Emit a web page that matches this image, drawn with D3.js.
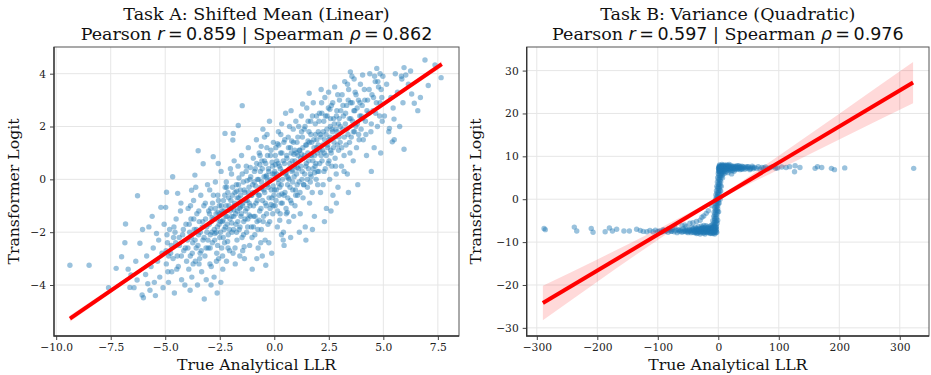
<!DOCTYPE html>
<html>
<head>
<meta charset="utf-8">
<script src="https://cdn.jsdelivr.net/npm/d3@7"></script>
<style>
  body { margin: 0; background: #fff; }
  text { font-family: "DejaVu Serif", serif; }
</style>
</head>
<body>
<svg id="chart" width="931" height="375"></svg>
<script>
// ---- data ----
const titlesA = ['Task A: Shifted Mean (Linear)', 0.859, 0.862];
const titlesB = ['Task B: Variance (Quadratic)', 0.597, 0.976];

const ticksAx = [-10, -7.5, -5, -2.5, 0, 2.5, 5, 7.5];
const ticksAy = [-4, -2, 0, 2, 4];
const ticksBx = [-300, -200, -100, 0, 100, 200, 300];
const ticksBy = [-30, -20, -10, 0, 10, 20, 30];

// fitted line end points and CI band
const fitAx = [-9.37, 7.68];
const fitAy = [-5.27, 4.36];
const bandAx = [-9.37, 0, 7.68];
const bandAhalf = [0.12, 0.03, 0.11];

const fitBx = [-290, 322];
const fitBy = [-24.2, 27.2];
const bandBx = [-290, -200, -100, 0, 100, 200, 322];
const bandBhalf = [4.0, 2.6, 1.25, 0.45, 1.6, 3.0, 4.8];

const taskA = [
  [-9.37,-3.25],[-8.49,-3.25],[-7.25,-3.37],[-7.6,-4.1],
  [-7.0,-2.93],[-6.85,-2.4],[-6.82,-1.69],[-6.57,-3.62],[-6.62,-4.09],[-6.43,-4.1],[-6.29,-3.81],[-6.27,-0.62],[-6.16,-2.42],[-6.06,-4.38],[-6.04,-1.9],[-6.0,-4.48],[-6.35,-3.1],[-6.7,-3.4],
  [-5.75,-1.8],[-5.4,-2.05],[-5.2,-1.06],[-5.9,-3.6],[-5.85,-2.9],[-5.7,-4.2],[-5.65,-3.3],[-5.55,-2.6],[-5.5,-3.9],[-5.45,-4.4],[-5.35,-3.1],[-5.3,-2.3],[-5.25,-3.7],[-5.15,-2.8],[-5.1,-4.1],[-5.05,-1.7],[-5.6,-1.4],[-5.8,-3.95],
  [-4.98,-1.06],[-4.94,-0.49],[-4.66,0.1],[-4.43,-0.53],[-4.95,-3.2],[-4.9,-2.4],[-4.85,-3.9],[-4.8,-1.9],[-4.75,-2.8],[-4.7,-3.5],[-4.62,-2.2],[-4.58,-4.3],[-4.5,-1.5],[-4.45,-2.9],[-4.4,-3.3],[-4.35,-2.5],[-4.3,-1.2],[-4.25,-3.8],[-4.2,-2.1],[-4.15,-2.7],[-4.1,-4.0],[-4.05,-1.7],[-4.02,-3.1],[-4.55,-2.0],[-4.88,-3.5],[-4.28,-0.9],
  [-3.79,-0.41],[-3.64,0.16],[-3.49,1.08],[-3.26,0.59],[-3.21,-4.53],[-3.98,-2.3],[-3.95,-1.1],[-3.92,-3.4],[-3.88,-2.0],[-3.85,-2.9],[-3.82,-1.5],[-3.78,-3.7],[-3.74,-2.4],[-3.7,-0.8],[-3.67,-1.9],[-3.62,-3.1],[-3.58,-2.6],[-3.55,-1.3],[-3.52,-4.0],[-3.47,-2.1],[-3.44,-1.6],[-3.4,-2.8],[-3.37,-0.6],[-3.33,-3.5],[-3.3,-1.8],[-3.27,-2.3],[-3.23,-1.0],[-3.18,-2.9],[-3.15,-1.5],[-3.12,-3.8],[-3.09,-2.0],[-3.06,-0.2],[-3.03,-2.6],[-3.01,-1.2],[-3.86,-4.2],[-3.45,-3.2],[-3.6,-0.3],
  [-2.8,0.86],[-2.57,0.6],[-2.26,1.74],[-2.98,-1.7],[-2.96,-0.4],[-2.94,-2.6],[-2.91,-1.1],[-2.89,-3.3],[-2.86,-2.0],[-2.83,-0.9],[-2.78,-1.5],[-2.76,-3.7],[-2.73,-2.3],[-2.7,-0.1],[-2.67,-1.3],[-2.64,-2.8],[-2.61,-1.8],[-2.59,-0.6],[-2.55,-3.0],[-2.52,-1.0],[-2.5,-2.2],[-2.47,-1.6],[-2.44,0.3],[-2.41,-2.6],[-2.39,-1.2],[-2.36,-3.4],[-2.33,-0.8],[-2.3,-1.9],[-2.28,-2.4],[-2.25,-0.3],[-2.22,-1.4],[-2.19,-3.1],[-2.16,-1.7],[-2.13,-0.5],[-2.11,-2.1],[-2.08,-1.0],[-2.05,-2.7],[-2.03,-1.5],[-2.01,0.4],[-2.9,-4.0],[-2.62,-4.3],[-2.45,-3.9],[-2.2,-0.1],[-2.72,-2.05],[-2.35,-1.55],[-2.58,-1.25],[-2.14,-2.35],[-2.85,-1.45],
  [-1.88,1.74],[-1.9,1.49],[-1.65,2.04],[-1.47,2.79],[-1.98,-1.1],[-1.96,0.2],[-1.94,-2.0],[-1.92,-0.6],[-1.89,-2.8],[-1.86,-1.4],[-1.84,0.7],[-1.81,-0.9],[-1.79,-3.2],[-1.76,-1.7],[-1.74,-0.2],[-1.71,-2.3],[-1.69,-1.2],[-1.66,0.5],[-1.63,-0.7],[-1.61,-1.9],[-1.58,-2.9],[-1.56,-0.4],[-1.53,-1.4],[-1.5,0.9],[-1.48,-2.2],[-1.45,-1.0],[-1.42,-0.1],[-1.4,-1.6],[-1.37,-3.0],[-1.35,-0.5],[-1.32,-1.2],[-1.29,0.3],[-1.27,-2.0],[-1.24,-0.8],[-1.21,-1.5],[-1.19,1.2],[-1.16,-0.3],[-1.13,-2.5],[-1.11,-1.0],[-1.08,0.1],[-1.05,-1.8],[-1.03,-0.6],[-1.01,-3.4],[-1.55,-1.05],[-1.25,-0.05],[-1.85,-1.15],[-1.15,-1.35],[-1.72,-0.45],[-1.38,-2.55],[-1.62,0.05],[-1.1,0.45],[-1.95,-1.65],
  [-0.39,-3.25],[-0.98,-0.5],[-0.96,0.8],[-0.94,-1.4],[-0.92,-0.1],[-0.89,-2.1],[-0.87,0.4],[-0.84,-0.9],[-0.82,1.5],[-0.79,-1.6],[-0.77,0.0],[-0.74,-2.6],[-0.72,-0.6],[-0.69,1.0],[-0.67,-1.2],[-0.64,0.3],[-0.62,-0.3],[-0.59,-1.9],[-0.57,0.7],[-0.54,-0.8],[-0.52,1.9],[-0.49,-1.4],[-0.47,0.1],[-0.44,-0.5],[-0.42,-2.3],[-0.39,0.6],[-0.37,-1.0],[-0.34,1.2],[-0.32,-0.2],[-0.29,-1.7],[-0.27,0.4],[-0.24,-0.7],[-0.22,2.2],[-0.19,-1.1],[-0.17,0.9],[-0.14,-0.4],[-0.12,-2.8],[-0.09,0.2],[-0.07,-1.3],[-0.04,1.4],[-0.02,-0.6],[-0.55,-2.9],[-0.8,-3.0],[-0.25,-2.4],[-0.66,0.55],[-0.35,0.15],[-0.58,-0.35],[-0.15,-0.95],[-0.85,-0.25],[-0.45,1.6],[-0.1,0.65],[-0.7,-1.55],[-0.3,-0.05],[-0.95,-1.8],[-0.05,-0.25],[-0.6,1.25],
  [0.41,-2.3],[0.02,0.3],[0.04,-1.0],[0.07,1.2],[0.09,-0.4],[0.12,0.7],[0.14,-1.8],[0.17,0.0],[0.19,1.8],[0.22,-0.6],[0.24,0.5],[0.27,-1.3],[0.29,1.0],[0.32,-0.2],[0.34,2.1],[0.37,-0.9],[0.39,0.3],[0.42,-2.0],[0.44,1.4],[0.47,0.6],[0.49,-0.5],[0.52,2.5],[0.54,-1.1],[0.57,0.9],[0.59,0.1],[0.62,-0.7],[0.64,1.6],[0.67,-1.6],[0.69,0.4],[0.72,-0.3],[0.74,1.2],[0.77,2.6],[0.79,-0.9],[0.82,0.7],[0.84,-0.1],[0.87,1.9],[0.89,-1.4],[0.92,0.5],[0.94,1.1],[0.97,-0.4],[0.99,2.2],[0.15,1.35],[0.55,0.25],[0.35,-0.55],[0.8,1.45],[0.25,-1.55],[0.65,0.05],[0.45,-2.5],[0.9,0.95],[0.05,0.55],[0.75,-2.2],[0.3,1.7],[0.6,-1.25],[0.95,-1.0],[0.2,-0.15],[0.85,0.35],
  [1.6,3.26],[1.02,0.2],[1.04,1.4],[1.07,-0.6],[1.09,0.9],[1.12,2.0],[1.14,-0.1],[1.17,1.1],[1.19,-1.3],[1.22,0.5],[1.24,2.4],[1.27,0.0],[1.29,1.6],[1.32,-0.7],[1.34,0.8],[1.37,1.9],[1.39,0.2],[1.42,-1.8],[1.44,1.3],[1.47,0.6],[1.49,2.7],[1.52,-0.3],[1.54,1.0],[1.57,0.4],[1.59,1.8],[1.62,-0.9],[1.64,0.9],[1.67,2.2],[1.69,0.1],[1.72,1.4],[1.74,-0.5],[1.77,0.7],[1.79,2.9],[1.82,1.2],[1.84,-1.4],[1.87,0.5],[1.89,1.7],[1.92,0.0],[1.94,2.4],[1.97,1.0],[1.99,-0.2],[1.15,-2.0],[1.45,-2.3],[1.75,-1.9],[1.3,2.85],[1.55,1.45],[1.85,0.25],[1.25,0.95],[1.65,-0.1],[1.05,0.45],[1.95,1.5],[1.35,-0.2],
  [2.02,1.8],[2.04,0.3],[2.07,2.5],[2.09,1.1],[2.12,-0.5],[2.14,1.6],[2.17,2.9],[2.19,0.7],[2.22,1.3],[2.24,-0.2],[2.27,2.2],[2.29,1.0],[2.32,3.1],[2.34,0.4],[2.37,1.7],[2.39,-1.1],[2.42,2.4],[2.44,1.2],[2.47,0.6],[2.49,3.3],[2.52,1.5],[2.54,0.0],[2.57,2.0],[2.59,1.1],[2.62,2.8],[2.64,0.5],[2.67,1.8],[2.69,-0.6],[2.72,2.3],[2.74,1.4],[2.77,3.5],[2.79,0.8],[2.82,1.9],[2.84,0.2],[2.87,2.6],[2.89,1.3],[2.92,-0.3],[2.94,2.1],[2.97,1.6],[2.99,3.0],[2.3,-1.6],[2.6,-1.2],[2.85,-0.9],[2.15,3.4],[2.55,2.65],
  [3.02,1.4],[3.05,2.6],[3.08,0.5],[3.11,3.2],[3.14,1.9],[3.17,2.4],[3.2,0.9],[3.23,3.7],[3.26,2.1],[3.29,1.3],[3.32,2.8],[3.35,0.2],[3.38,1.7],[3.41,3.4],[3.44,2.3],[3.47,1.0],[3.5,2.9],[3.53,1.6],[3.56,3.9],[3.59,2.2],[3.62,0.7],[3.65,2.6],[3.68,1.8],[3.71,3.3],[3.74,2.0],[3.77,1.2],[3.8,2.7],[3.83,-0.2],[3.86,3.0],[3.89,1.5],[3.92,2.4],[3.95,3.6],[3.98,1.9],[3.4,-0.5],[3.49,4.07],
  [4.03,2.8],[4.08,1.5],[4.13,3.4],[4.18,2.2],[4.23,0.9],[4.28,3.0],[4.33,2.5],[4.38,4.0],[4.43,1.8],[4.48,3.2],[4.53,2.6],[4.58,1.2],[4.63,3.7],[4.68,2.9],[4.73,2.0],[4.78,3.5],[4.83,2.4],[4.88,1.0],[4.93,3.1],[4.98,3.9],[4.45,0.3],[4.7,4.2],[4.05,3.95],[4.85,4.0],
  [5.05,2.4],[5.15,3.6],[5.25,1.8],[5.35,3.1],[5.45,2.7],[5.55,4.0],[5.65,3.3],[5.75,2.0],[5.85,3.8],[5.95,1.14],[5.5,1.5],[5.9,2.9],[5.28,1.93],[5.41,1.42],[5.49,2.28],[5.95,4.23],[5.83,3.9],
  [6.03,3.95],[6.3,3.23],[6.42,2.88],[6.58,2.6],[6.91,4.52],[7.06,3.55],[7.37,4.33],[7.65,3.85],[6.15,3.6],[6.7,3.1],[6.25,4.1]
];

// denser core of the task A cloud
const taskAcore = [
  [-4.96,-2.7],[-4.84,-2.9],[-4.72,-2.5],[-4.64,-3.0],[-4.52,-2.4],[-4.47,-3.4],[-4.36,-2.2],[-4.26,-2.9],[-4.17,-1.9],[-4.08,-2.6],[-4.92,-2.1],[-4.6,-1.8],
  [-3.96,-2.6],[-3.9,-1.7],[-3.81,-2.2],[-3.76,-2.8],[-3.69,-1.5],[-3.63,-2.3],[-3.57,-1.9],[-3.5,-2.5],[-3.46,-1.2],[-3.39,-2.0],[-3.35,-2.7],[-3.28,-1.6],[-3.22,-2.2],[-3.16,-0.9],[-3.1,-1.8],[-3.04,-2.3],[-3.72,-3.2],[-3.42,-3.0],[-3.13,-2.6],[-3.84,-1.0],
  [-2.97,-1.3],[-2.93,-2.1],[-2.88,-1.6],[-2.84,-2.4],[-2.79,-0.6],[-2.75,-1.9],[-2.71,-1.1],[-2.66,-2.0],[-2.63,-1.5],[-2.6,-2.5],[-2.56,-0.8],[-2.53,-1.7],[-2.49,-1.3],[-2.46,-2.0],[-2.42,-1.0],[-2.38,-1.6],[-2.34,-2.2],[-2.31,-1.2],[-2.27,-0.6],[-2.24,-1.8],[-2.21,-1.0],[-2.17,-1.4],[-2.12,-2.6],[-2.09,-0.7],[-2.06,-1.9],[-2.02,-1.2],[-2.65,-3.1],[-2.37,-2.9],[-2.95,-3.2],[-2.18,-0.3],
  [-1.99,-0.8],[-1.95,-1.4],[-1.91,-0.3],[-1.87,-1.9],[-1.83,-1.0],[-1.8,-0.5],[-1.77,-1.3],[-1.73,-2.0],[-1.7,-0.7],[-1.67,-1.6],[-1.64,-0.2],[-1.6,-1.1],[-1.57,-1.8],[-1.54,-0.6],[-1.51,-1.3],[-1.47,0.2],[-1.44,-0.9],[-1.41,-2.1],[-1.38,-0.4],[-1.34,-1.5],[-1.31,-0.8],[-1.28,0.5],[-1.25,-1.1],[-1.22,-1.8],[-1.18,-0.5],[-1.15,-0.9],[-1.12,0.0],[-1.09,-1.4],[-1.06,-0.6],[-1.02,-2.2],[-1.8,-2.6],[-1.45,-2.7],
  [-0.99,-0.2],[-0.95,-1.0],[-0.91,0.3],[-0.88,-1.4],[-0.85,-0.5],[-0.81,0.6],[-0.78,-0.8],[-0.75,-1.9],[-0.71,0.0],[-0.68,-0.6],[-0.65,0.9],[-0.61,-1.1],[-0.58,-0.1],[-0.55,0.4],[-0.51,-1.6],[-0.48,-0.4],[-0.45,0.7],[-0.41,-0.9],[-0.38,0.1],[-0.35,-1.3],[-0.31,0.9],[-0.28,-0.3],[-0.25,0.3],[-0.21,-1.6],[-0.18,0.0],[-0.15,1.1],[-0.11,-0.7],[-0.08,0.5],[-0.05,-1.0],[-0.01,0.2],[-0.62,-2.4],[-0.33,1.7],
  [0.01,-0.4],[0.05,0.9],[0.08,-0.8],[0.11,0.2],[0.15,-1.2],[0.18,0.6],[0.21,1.3],[0.25,-0.3],[0.28,0.4],[0.31,-0.9],[0.35,1.0],[0.38,0.0],[0.41,0.7],[0.45,-0.6],[0.48,1.5],[0.51,0.2],[0.55,-1.3],[0.58,0.8],[0.61,-0.2],[0.65,1.2],[0.68,0.0],[0.71,0.6],[0.75,-0.8],[0.78,1.0],[0.81,0.3],[0.85,-0.4],[0.88,1.4],[0.91,0.1],[0.95,0.7],[0.98,-0.6],[0.33,-2.1],[0.7,2.0],
  [1.01,1.0],[1.05,-0.2],[1.08,1.6],[1.11,0.4],[1.15,1.1],[1.18,-0.5],[1.21,0.8],[1.25,1.8],[1.28,0.3],[1.31,1.2],[1.35,-0.2],[1.38,0.9],[1.41,2.0],[1.45,0.5],[1.48,1.3],[1.51,0.0],[1.55,2.2],[1.58,0.7],[1.61,1.4],[1.65,0.2],[1.68,1.7],[1.71,0.9],[1.75,2.4],[1.78,0.4],[1.81,1.5],[1.85,0.9],[1.88,2.1],[1.91,0.6],[1.95,1.2],[1.98,0.3],
  [2.01,1.3],[2.05,2.2],[2.08,0.6],[2.11,1.7],[2.15,0.9],[2.18,2.5],[2.21,1.1],[2.25,1.8],[2.28,0.3],[2.31,1.5],[2.35,2.4],[2.38,0.9],[2.41,1.9],[2.45,1.3],[2.48,2.7],[2.51,0.7],[2.55,1.6],[2.58,2.3],[2.61,1.0],[2.65,1.9],[2.68,2.9],[2.71,1.2],[2.75,2.1],[2.78,1.6],[2.81,0.5],[2.85,2.4],[2.88,1.8],[2.91,3.2],[2.95,1.1],[2.98,2.3],
  [3.03,2.0],[3.09,1.2],[3.15,2.8],[3.21,1.6],[3.27,2.5],[3.33,1.9],[3.39,3.0],[3.45,1.4],[3.51,2.3],[3.57,2.9],[3.63,1.8],[3.69,2.6],[3.75,3.2],[3.81,2.1],[3.87,1.7],[3.93,2.9],[3.99,2.4],[3.36,3.6],[3.66,3.8],[3.2,0.3],
  [4.05,2.3],[4.15,3.0],[4.25,2.6],[4.35,3.4],[4.45,2.1],[4.55,3.1],[4.65,2.5],[4.75,3.7],[4.85,2.9],[4.95,2.2],[4.2,1.7],[4.6,3.9],[4.9,3.4]
];

const taskB = [
  // sparse left tail
  [-288,-6.8],[-286,-7.1],[-238,-6.5],[-234,-7.4],[-210,-6.8],[-207,-7.7],[-187,-7.6],[-180,-6.7],[-175,-7.4],[-168,-7.0],
  [-156,-7.4],[-147,-7.4],[-135,-7.0],[-129,-7.3],[-124,-7.5],[-118,-7.6],[-113,-7.3],[-108,-7.6],[-104,-7.2],[-100,-7.5],
  // lower band
  [-97,-7.4],[-94,-7.7],[-91,-7.1],[-88,-7.5],[-86,-7.3],[-83,-7.7],[-80,-7.2],[-78,-7.5],[-75,-7.0],[-73,-7.6],
  [-70,-7.3],[-68,-7.8],[-66,-7.1],[-64,-7.5],[-62,-7.3],[-60,-7.7],[-58,-6.9],[-56,-7.4],[-54,-7.6],[-52,-7.2],
  [-50,-7.8],[-48,-7.0],[-46,-7.5],[-44,-7.3],[-42,-7.7],[-41,-6.8],[-53,-6.4],[-60,-6.2],[-72,-6.6],[-82,-6.9],
  [-40,-7.4],[-39,-7.8],[-38,-7.1],[-37,-7.6],[-36,-6.9],[-35,-7.3],[-34,-7.9],[-33,-7.2],[-32,-7.6],[-31,-6.8],
  [-30,-7.4],[-29,-7.8],[-28,-7.0],[-27,-7.5],[-26,-7.2],[-25,-7.9],[-24,-6.7],[-23,-7.4],[-22,-7.7],[-21,-7.1],
  [-20,-7.5],[-19,-6.9],[-18,-7.8],[-17,-7.3],[-16,-7.6],[-15,-7.0],[-14,-7.4],[-13,-8.0],[-12,-7.2],[-11,-7.6],
  [-10,-6.8],[-9,-7.4],[-8,-7.9],[-7,-7.1],[-6,-7.6],[-5,-7.3],[-4,-7.8],[-3,-7.0],[-38,-6.5],[-33,-6.4],
  [-28,-6.3],[-24,-6.1],[-20,-6.2],[-16,-6.4],[-12,-6.1],[-8,-6.3],[-36,-8.0],[-30,-8.1],[-22,-8.1],[-14,-7.9],
  [-10,-8.0],[-6,-8.1],[-26,-6.6],[-18,-6.6],[-4,-6.6],
  [-58,-7.5],[-55,-7.2],[-51,-7.6],[-47,-7.3],[-45,-7.8],[-43,-7.1],[-39.5,-7.3],[-37.5,-7.7],[-35.5,-7.0],[-33.5,-7.5],
  [-31.5,-7.2],[-29.5,-7.6],[-27.5,-6.9],[-25.5,-7.4],[-23.5,-7.8],[-21.5,-7.0],[-19.5,-7.3],[-17.5,-7.7],[-15.5,-6.8],[-13.5,-7.3],
  [-11.5,-7.8],[-9.5,-7.1],[-7.5,-7.5],[-5.5,-6.9],[-3.5,-7.4],[-2.5,-7.7],[-6.5,-7.8],[-8.5,-6.7],[-12.5,-6.7],[-17,-7.0],
  [-21,-6.5],[-27,-6.8],[-32,-7.0],[-44,-6.6],[-49,-7.4],[-65,-7.2],[-77,-7.4],[-90,-7.3],
  // light points above the lower band
  [-47,-5.6],[-36,-5.2],[-30,-4.9],[-27,-4.2],[-20,-3.3],[-16.5,-2.7],[-11,-1.5],[-55,-6.0],[-42,-5.5],[-24,-3.9],
  // steep rise
  [-11,-6.5],[-8,-6.5],[-5,-6.6],[-3,-6.4],[-10,-6],[-6.5,-6],[-4,-5.9],[-9,-5],[-6,-5],[-3,-5.1],
  [-1,-4.9],[-7.5,-4],[-5,-4],[-2.5,-4.1],[-7,-3],[-4,-3],[-1,-3],[0.5,-2.9],[-6,-2],[-3.5,-2],
  [-1,-2.1],[-5.5,-1],[-2.5,-1],[0,-1],[1.5,-0.9],[-4.5,0],[-2,0.1],[0.5,0],[3,0],[-4,1],
  [-1,1],[1.5,1.1],[-3,2],[0,2],[2.5,2],[4,1.9],[-2.5,3],[0.5,3],[3,3.1],[5,3],
  [-1.5,4],[1.5,4],[4,4.1],[-1,5],[2,5],[4.5,5.1],[7,5],[0,6],[2.5,6],[5,6],
  [8,5.9],[0.5,6.5],[3,6.6],[6,6.5],[9,6.4],
  [-9,-6.8],[-6,-6.3],[-7,-5.5],[-4.5,-5.3],[-2,-5.6],[-6,-4.5],[-3.5,-4.5],[-5.5,-3.5],[-2.5,-3.5],[-4.5,-2.5],
  [-2,-2.6],[-3.5,-1.5],[-1,-1.5],[-3,-0.5],[-0.5,-0.4],[-2.5,0.6],[0,0.5],[-2,1.5],[0.5,1.5],[-1,2.6],
  [1.5,2.5],[0,3.5],[2.5,3.6],[0.5,4.6],[3,4.5],[1,5.6],[3.5,5.5],[6,5.6],[1.5,7.0],[4,6.9],
  // upper band
  [0.5,7.2],[1,7.6],[1.5,6.9],[2,7.4],[2.5,7.8],[3,7.1],[3.5,7.5],[4,6.8],[4.5,7.3],[5,7.7],
  [5.5,7.0],[6,7.4],[6.5,7.9],[7,7.2],[7.5,6.7],[8,7.5],[9,7.1],[10,7.7],[11,6.9],[12,7.4],
  [13,7.8],[14,7.1],[15,7.5],[16,6.8],[17,7.3],[18,7.7],[19,7.0],[20,7.4],[21,7.9],[22,7.2],
  [23,6.7],[24,7.5],[25,7.1],[26,7.6],[27,7.3],[28,6.9],[29,7.7],[30,7.2],[31,7.5],[32,7.0],
  [33,7.4],[34,7.8],[35,7.2],[36,6.9],[37,7.5],[38,7.3],[39,7.7],[40,7.1],[2,8.0],[6,8.1],
  [10,8.0],[14,8.0],[18,8.1],[3,6.5],[8,6.4],[13,6.5],[20,6.6],[26,6.5],[1,6.6],[5,6.3],
  [11,6.1],[16,6.2],[22,5.9],
  [0.8,7.3],[1.8,7.5],[2.8,7.0],[3.8,7.6],[4.8,7.2],[5.8,7.7],[6.8,7.0],[7.8,7.4],[8.8,7.8],[9.8,7.2],
  [10.8,7.5],[11.8,7.0],[12.8,7.3],[13.8,7.7],[14.8,7.1],[15.8,7.4],[16.8,7.8],[17.8,7.2],[18.8,7.5],[19.8,7.1],
  [21.5,7.6],[23.5,7.3],[25.5,7.7],[27.5,7.1],[29.5,7.4],[31.5,7.8],[33.5,7.2],[35.5,7.5],[38.5,7.0],[41,7.6],
  [45,7.3],[49,7.6],[53,7.1],[57,7.4],
  [42,7.4],[44,7.0],[46,7.6],[48,7.2],[50,7.5],[52,6.9],[54,7.3],[56,7.7],[58,7.1],[60,7.4],
  [63,7.2],[66,7.6],[69,7.0],[72,7.4],[75,7.3],[78,7.5],[82,7.1],[86,7.4],[90,7.6],[95,7.2],[98,7.3],
  // sparse right tail
  [105,7.5],[112,7.4],[118,7.6],[127,7.8],[126,6.4],[135,7.4],[160,7.2],[164,7.6],[171,7.4],[187,7.2],
  [192,6.9],[209,7.3],[323,7.2]
];

// ---- layout ----
const svg = d3.select('#chart');
const plotTop = 47, plotBottom = 336;

const panels = [
  {
    id: 'a', left: 54, right: 459, labelX: 18.5,
    xDomain: [-10.1, 8.47], yDomain: [-5.93, 5.01],
    xTicks: ticksAx, yTicks: ticksAy, xFmt: d3.format('.1f'), yFmt: d3.format('d'),
    points: taskA.concat(taskAcore), fitX: fitAx, fitY: fitAy, bandX: bandAx, bandHalf: bandAhalf,
    title: titlesA
  },
  {
    id: 'b', left: 526.7, right: 929, labelX: 481,
    xDomain: [-316.7, 348.3], yDomain: [-31.9, 35.5],
    xTicks: ticksBx, yTicks: ticksBy, xFmt: d3.format('d'), yFmt: d3.format('d'),
    points: taskB, fitX: fitBx, fitY: fitBy, bandX: bandBx, bandHalf: bandBhalf,
    title: titlesB
  }
];

const minus = d => String(d).replace('-', '\u2212');
const eq = '\u2009=\u2009';

panels.forEach(function(p) {
  const x = d3.scaleLinear().domain(p.xDomain).range([p.left, p.right]);
  const y = d3.scaleLinear().domain(p.yDomain).range([plotBottom, plotTop]);
  const g = svg.append('g');

  g.append('clipPath').attr('id', 'clip-' + p.id)
    .append('rect')
      .attr('x', p.left).attr('y', plotTop)
      .attr('width', p.right - p.left).attr('height', plotBottom - plotTop);

  // grid
  g.append('g').selectAll('line').data(p.xTicks).enter().append('line')
      .attr('x1', d => x(d)).attr('x2', d => x(d))
      .attr('y1', plotTop).attr('y2', plotBottom)
      .attr('stroke', '#e6e6e6').attr('stroke-width', 1);
  g.append('g').selectAll('line').data(p.yTicks).enter().append('line')
      .attr('x1', p.left).attr('x2', p.right)
      .attr('y1', d => y(d)).attr('y2', d => y(d))
      .attr('stroke', '#e6e6e6').attr('stroke-width', 1);

  const plot = g.append('g').attr('clip-path', 'url(#clip-' + p.id + ')');

  plot.append('g').selectAll('circle').data(p.points).enter().append('circle')
      .attr('cx', d => x(d[0]))
      .attr('cy', d => y(d[1]))
      .attr('r', 2.7)
      .attr('fill', '#1f77b4')
      .attr('fill-opacity', 0.45);

  // regression CI band + line
  const slope = (p.fitY[1] - p.fitY[0]) / (p.fitX[1] - p.fitX[0]);
  const lineAt = v => p.fitY[0] + slope * (v - p.fitX[0]);
  const band = p.bandX.map((v, i) => [v, lineAt(v) - p.bandHalf[i], lineAt(v) + p.bandHalf[i]]);
  plot.append('path')
      .datum(band)
      .attr('d', d3.area().x(d => x(d[0])).y0(d => y(d[1])).y1(d => y(d[2])).curve(d3.curveMonotoneX))
      .attr('fill', '#ff0000')
      .attr('fill-opacity', 0.15);
  plot.append('line')
      .attr('x1', x(p.fitX[0])).attr('y1', y(p.fitY[0]))
      .attr('x2', x(p.fitX[1])).attr('y2', y(p.fitY[1]))
      .attr('stroke', '#ff0000').attr('stroke-width', 4);

  // axes
  const ax = g.append('g').attr('transform', 'translate(0,' + plotBottom + ')')
      .call(d3.axisBottom(x).tickValues(p.xTicks).tickSize(4).tickPadding(3).tickFormat(d => minus(p.xFmt(d))));
  const ay = g.append('g').attr('transform', 'translate(' + p.left + ',0)')
      .call(d3.axisLeft(y).tickValues(p.yTicks).tickSize(4).tickPadding(4).tickFormat(d => minus(p.yFmt(d))));
  [ax, ay].forEach(function(a) {
    a.select('.domain').remove();
    a.selectAll('.tick line').attr('stroke', '#444');
    a.selectAll('.tick text')
      .attr('fill', '#222')
      .style('font-family', '"DejaVu Serif", serif')
      .style('font-size', '10.7px');
  });

  // spines
  g.append('rect')
      .attr('x', p.left).attr('y', plotTop)
      .attr('width', p.right - p.left).attr('height', plotBottom - plotTop)
      .attr('fill', 'none').attr('stroke', '#555').attr('stroke-width', 1);
  g.append('path')
      .attr('d', 'M' + p.left + ',' + plotTop + 'V' + plotBottom + 'H' + p.right)
      .attr('fill', 'none').attr('stroke', '#333').attr('stroke-width', 1.3);

  // labels
  const cx = (p.left + p.right) / 2;
  g.append('text')
      .attr('x', cx).attr('y', 370)
      .attr('text-anchor', 'middle')
      .style('font-size', '15.7px').attr('fill', '#111')
      .text('True Analytical LLR');
  g.append('text')
      .attr('transform', 'translate(' + p.labelX + ',' + ((plotTop + plotBottom) / 2) + ') rotate(-90)')
      .attr('text-anchor', 'middle')
      .style('font-size', '15.7px').attr('fill', '#111')
      .text('Transformer Logit');

  // titles
  g.append('text')
      .attr('x', cx).attr('y', 20)
      .attr('text-anchor', 'middle')
      .style('font-size', '17.5px').attr('fill', '#111')
      .text(p.title[0]);
  const t2 = g.append('text')
      .attr('x', cx).attr('y', 40)
      .attr('text-anchor', 'middle')
      .style('font-size', '17.5px').attr('fill', '#111');
  t2.append('tspan').text('Pearson ');
  t2.append('tspan').style('font-family', '"DejaVu Sans", sans-serif').style('font-style', 'italic').text('r');
  t2.append('tspan').style('font-family', '"DejaVu Sans", sans-serif').text(eq + p.title[1].toFixed(3));
  t2.append('tspan').text(' | Spearman ');
  t2.append('tspan').style('font-family', '"DejaVu Sans", sans-serif').style('font-style', 'italic').text('\u03c1');
  t2.append('tspan').style('font-family', '"DejaVu Sans", sans-serif').text(eq + p.title[2].toFixed(3));
});
</script>
</body>
</html>
